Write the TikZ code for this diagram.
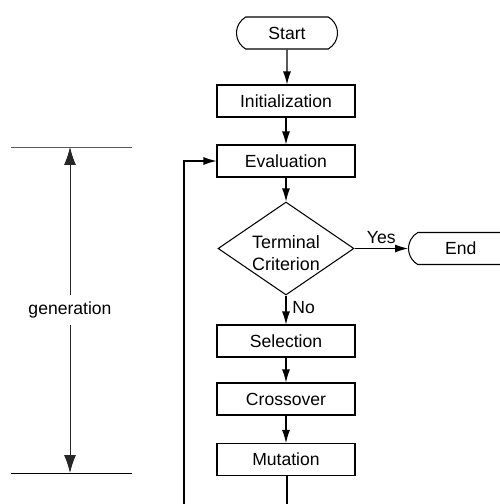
\documentclass[tikz,border=0pt]{standalone}
\usepackage{fontspec}
\setmainfont{Liberation Sans}
\usetikzlibrary{arrows.meta, shapes.geometric, shapes.misc}

\tikzset{
  stepbox/.style={draw, rectangle, minimum width=2.76cm, minimum height=0.64cm, inner sep=0pt},
  term/.style={draw, rounded rectangle, rounded rectangle arc length=120, minimum width=2.02cm, minimum height=0.64cm, inner sep=0pt},
  decide/.style={draw, diamond, minimum width=2.72cm, minimum height=1.86cm, inner sep=0pt, align=center},
}

\begin{document}
\begin{tikzpicture}[x=0.02cm, y=-0.02cm, line width=0.6pt, >={Latex[length=2.6mm, width=1.6mm]},
    font=\fontsize{10}{11.5}\selectfont]
  \useasboundingbox (0,0) rectangle (500,504);
  \clip (0,0) rectangle (500,504);
  \node (start) [term] at (287,33) {Start};
  \node (init) [stepbox] at (286,101) {Initialization};
  \node (eval) [stepbox] at (286,161) {Evaluation};
  \node (crit) [decide] at (286,248.5) {};
  \node (crittext) [align=center, font=\fontsize{10.2}{12.5}\selectfont] at (286,253.5) {Terminal\\Criterion};
  \node (end) [term, anchor=west] at (408,248.5) {\hspace{2pt}End};
  \node (sel) [stepbox] at (286,341) {Selection};
  \node (cross) [stepbox] at (286,399) {Crossover};
  \node (mut) [stepbox] at (286,459.5) {Mutation};
  \coordinate (loopa) at (287,504);
  \coordinate (loopb) at (184,504);
  \coordinate (gentop) at (70,147);
  \coordinate (genbot) at (70,473);

  \draw[->] (start) -- (start |- init.north);
  \draw[->] (init) -- (eval);
  \draw[->] (eval) -- (crit);
  \draw[->] (crit) -- node[above, yshift=-1pt] {Yes} (end);
  \draw[->] (crit) -- node[right, xshift=0pt, yshift=1.5pt] {No} (sel);
  \draw[->] (sel) -- (cross);
  \draw[->] (cross) -- (mut);
  \draw (mut.south -| loopa) -- (loopa);
  \draw[->] (loopb) |- (eval.west);

  % generation span
  \draw[line width=0.5pt, black!65] (11,147) -- (132,147);
  \draw[line width=0.5pt] (11,473) -- (132,473);
  \draw[<->, line width=0.5pt, black!85, >={Latex[length=3.6mm, width=2.4mm]}] (gentop) -- node[fill=white, text=black, inner xsep=1pt, inner ysep=4pt] {generation} (genbot);
\end{tikzpicture}
\end{document}
